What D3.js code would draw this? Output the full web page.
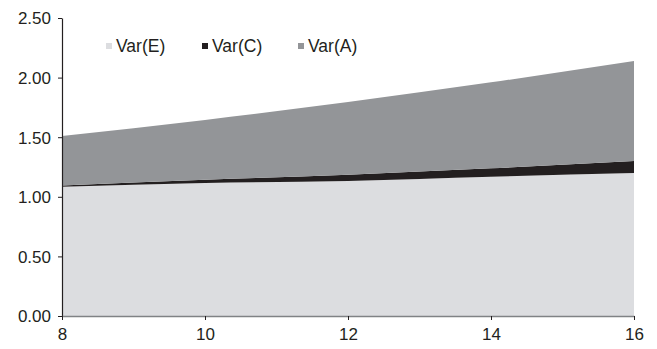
<!DOCTYPE html>
<html>
<head>
<meta charset="utf-8">
<script src="https://cdn.jsdelivr.net/npm/d3@7"></script>
<style>
  body { margin: 0; background: #fff; }
  text { font-family: Arial, "Liberation Sans", sans-serif; fill: #231f20; }
</style>
</head>
<body>
<div id="chart"></div>
<script>
const ages = [8, 10, 12, 14, 16]
const varE = [1.085, 1.115, 1.133, 1.169, 1.20]
const varC = [0.01, 0.028, 0.052, 0.07, 0.10]
const varA = [0.415, 0.502, 0.61, 0.721, 0.84]
const yTicks = [0, 0.5, 1, 1.5, 2, 2.5]
const xTicks = [8, 10, 12, 14, 16]

const series = [
    { name: "Var(E)", values: varE, color: "#dcdde0" },
    { name: "Var(C)", values: varC, color: "#231f20" },
    { name: "Var(A)", values: varA, color: "#939598" }
]

const width = 657
const height = 349
const margin = { top: 18, right: 23, bottom: 33, left: 62 }

const svg = d3.select("#chart")
    .append("svg")
    .attr("width", width)
    .attr("height", height)

const x = d3.scaleLinear().domain([8, 16]).range([margin.left, width - margin.right])
const y = d3.scaleLinear().domain([0, 2.5]).range([height - margin.bottom, margin.top])

// stack the three components
const rows = ages.map((a, i) => {
    const r = { age: a }
    series.forEach(s => r[s.name] = s.values[i])
    return r
})
const stacked = d3.stack().keys(series.map(s => s.name))(rows)

const area = d3.area()
    .curve(d3.curveMonotoneX)
    .x(d => x(d.data.age))
    .y0(d => y(d[0]))
    .y1(d => y(d[1]))

svg.selectAll("path.layer")
    .data(stacked)
    .enter()
    .append("path")
    .attr("class", "layer")
    .attr("d", area)
    .attr("fill", (d, i) => series[i].color)

// y axis
const yAxis = svg.append("g")
    .attr("transform", `translate(${margin.left},0)`)
    .call(d3.axisLeft(y).tickValues(yTicks).tickFormat(d3.format(".2f")).tickSize(4).tickSizeOuter(0))
yAxis.select(".domain").attr("stroke", "#231f20").attr("stroke-width", 1.2)
yAxis.selectAll(".tick line").attr("stroke", "#231f20")
yAxis.selectAll("text").style("font-size", "17px").attr("x", -11).attr("dy", "0.35em")

// x axis
const xAxis = svg.append("g")
    .attr("transform", `translate(0,${height - margin.bottom})`)
    .call(d3.axisBottom(x).tickValues(xTicks).tickSize(4).tickSizeOuter(0))
xAxis.select(".domain").attr("stroke", "#808285").attr("stroke-width", 1.5)
xAxis.selectAll(".tick line").attr("stroke", "#231f20")
xAxis.selectAll("text").style("font-size", "17px").attr("y", 12)

// legend
const legendX = [106, 202, 298]
const legend = svg.selectAll("g.legend")
    .data(series)
    .enter()
    .append("g")
    .attr("class", "legend")
    .attr("transform", (d, i) => `translate(${legendX[i]},46)`)

legend.append("rect")
    .attr("x", 0)
    .attr("y", -3)
    .attr("width", 6)
    .attr("height", 6)
    .attr("fill", d => d.color)

legend.append("text")
    .attr("x", 10)
    .attr("dy", "0.36em")
    .style("font-size", "17.5px")
    .text(d => d.name)
</script>
</body>
</html>
